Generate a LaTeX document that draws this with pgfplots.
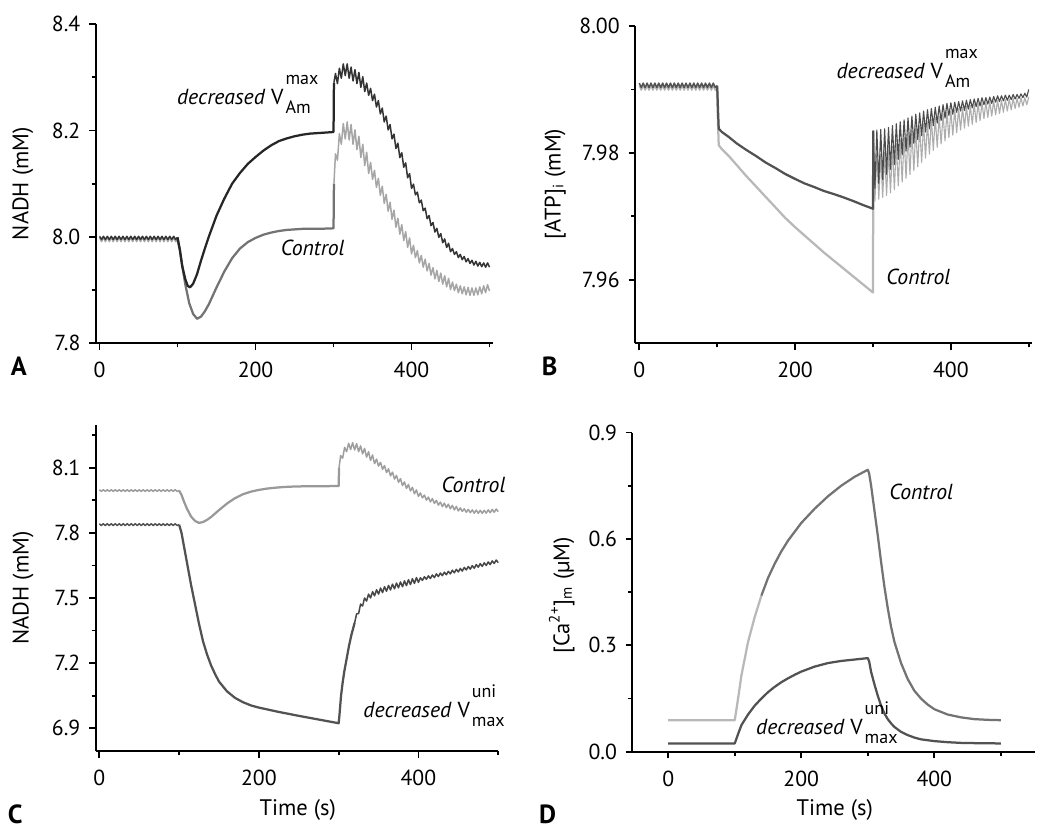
\documentclass[border=0pt]{standalone}
\usepackage{fontspec}
\setmainfont{PT Sans}
\usepackage{pgfplots}
\usepackage{pgfplotstable}
\pgfplotsset{compat=1.18}

\newcommand{\Vs}[2]{V\kern0.8pt\rlap{\raisebox{8pt}{\fontsize{7.2}{9}\selectfont #1}}\raisebox{-3.6pt}{\fontsize{7.2}{9}\selectfont #2}}
\newcommand{\ann}{\fontsize{8.7}{10}\selectfont}

% Control NADH trace (same run in panels A and C)
\pgfplotstableread[row sep=\\]{t v\\
0 7.999\\ 2.5 7.991\\ 5 7.999\\ 7.5 7.991\\ 10 7.999\\ 12.5 7.991\\ 15 7.999\\ 17.5 7.991\\ 20 7.999\\ 22.5 7.991\\ 25 7.999\\ 27.5 7.991\\ 30 7.999\\ 32.5 7.991\\ 35 7.999\\ 37.5 7.991\\ 40 7.999\\ 42.5 7.991\\ 45 7.999\\ 47.5 7.991\\ 50 7.999\\ 52.5 7.991\\ 55 7.999\\ 57.5 7.991\\ 60 7.999\\ 62.5 7.991\\ 65 7.999\\ 67.5 7.991\\ 70 7.999\\ 72.5 7.991\\ 75 7.999\\ 77.5 7.991\\ 80 7.999\\ 82.5 7.991\\ 85 7.999\\ 87.5 7.991\\ 90 7.999\\ 92.5 7.991\\ 95 7.999\\ 97.5 7.991\\ 100 7.995\\
}\ctrlpre
\pgfplotstableread[row sep=\\]{t v\\
100 7.995\\ 103 7.975\\ 106 7.945\\ 110 7.91\\ 115 7.875\\ 120 7.855\\ 125 7.846\\ 130 7.85\\ 135 7.86\\ 140 7.873\\ 150 7.905\\ 160 7.935\\ 170 7.96\\ 180 7.978\\ 190 7.99\\ 200 7.998\\ 210 8.004\\ 220 8.008\\ 230 8.011\\ 240 8.013\\ 260 8.015\\ 280 8.015\\ 300 8.016\\ 300.5 8.10\\
}\ctrlmid
\pgfplotstableread[row sep=\\]{t v\\
300.5 8.10\\ 302.5 8.156\\ 305 8.144\\ 307.5 8.194\\ 310 8.174\\ 312.5 8.213\\ 315 8.184\\ 317.5 8.216\\ 320 8.182\\ 322.5 8.211\\ 325 8.174\\ 327.5 8.201\\ 330 8.164\\ 332.5 8.189\\ 335 8.149\\ 337.5 8.174\\ 340 8.134\\ 342.5 8.159\\ 345 8.119\\ 347.5 8.140\\ 350 8.108\\ 352.5 8.125\\ 355 8.093\\ 357.5 8.110\\ 360 8.078\\ 362.5 8.095\\ 365 8.063\\ 367.5 8.080\\ 370 8.048\\ 372.5 8.065\\ 375 8.033\\ 377.5 8.050\\ 380 8.018\\ 382.5 8.035\\ 385 8.005\\ 387.5 8.023\\ 390 7.993\\ 392.5 8.010\\ 395 7.980\\ 397.5 7.998\\ 400 7.968\\ 402.5 7.984\\ 405 7.961\\ 407.5 7.974\\ 410 7.951\\ 412.5 7.965\\ 415 7.943\\ 417.5 7.958\\ 420 7.936\\ 422.5 7.950\\ 425 7.928\\ 427.5 7.942\\ 430 7.921\\ 432.5 7.937\\ 435 7.916\\ 437.5 7.932\\ 440 7.911\\ 442.5 7.927\\ 445 7.906\\ 447.5 7.922\\ 450 7.901\\ 452.5 7.915\\ 455 7.899\\ 457.5 7.911\\ 460 7.895\\ 462.5 7.908\\ 465 7.893\\ 467.5 7.906\\ 470 7.891\\ 472.5 7.905\\ 475 7.890\\ 477.5 7.904\\ 480 7.890\\ 482.5 7.904\\ 485 7.891\\ 487.5 7.906\\ 490 7.893\\ 492.5 7.908\\ 495 7.895\\ 497.5 7.910\\ 500 7.898\\
}\ctrlpost

\pgfplotsset{
  panel/.style={
    scale only axis,
    anchor=south west,
    axis x line=bottom, axis y line=left,
    axis line style={-, line width=0.8pt, black},
    tick align=outside,
    major tick length=2.6pt, minor tick length=1.6pt,
    every tick/.style={line width=0.7pt, black},
    tick label style={font=\fontsize{8.7}{10}\selectfont},
    xticklabel style={yshift=-1.5pt},
    label style={font=\fontsize{9}{11}\selectfont},
    /pgf/number format/assume math mode=true,
    xtick={0,200,400}, minor xtick={100,300,500},
    scaled y ticks=false,
    clip=false,
    every axis plot/.append style={line width=0.9pt, line join=round, mark=none},
  },
  rip/.style={line width=0.6pt},
}

\begin{document}
\begin{tikzpicture}
\useasboundingbox (0,0) rectangle (420pt,335.6pt);

% ---------- A ----------
\begin{axis}[panel, at={(38.27pt,198.3pt)}, width=159.1pt, height=127.7pt,
  xmin=-5, xmax=505, ymin=7.8, ymax=8.4,
  ytick={7.8,8.0,8.2,8.4}, minor ytick={7.9,8.1,8.3},
  yticklabel style={/pgf/number format/.cd,fixed,fixed zerofill,precision=1},
  ylabel={NADH (mM)},
  ylabel style={at={(rel axis cs:-0.183,0.5)}, anchor=center},
]
% control
\addplot[black!35, rip] table[x=t, y=v] {\ctrlpre};
\addplot[black!55] table[x=t, y=v] {\ctrlmid};
\addplot[black!35, rip] table[x=t, y=v] {\ctrlpost};
% decreased V_Am^max
\addplot[black!80, rip] coordinates {(0,8.001)(2.5,7.995)(5,8.001)(7.5,7.995)(10,8.001)(12.5,7.995)(15,8.001)(17.5,7.995)(20,8.001)(22.5,7.995)(25,8.001)(27.5,7.995)(30,8.001)(32.5,7.995)(35,8.001)(37.5,7.995)(40,8.001)(42.5,7.995)(45,8.001)(47.5,7.995)(50,8.001)(52.5,7.995)(55,8.001)(57.5,7.995)(60,8.001)(62.5,7.995)(65,8.001)(67.5,7.995)(70,8.001)(72.5,7.995)(75,8.001)(77.5,7.995)(80,8.001)(82.5,7.995)(85,8.001)(87.5,7.995)(90,8.001)(92.5,7.995)(95,8.001)(97.5,7.995)(100,7.999)};
\addplot[black!85] coordinates {(100,7.999)(103,7.975)(106,7.945)(110,7.92)(113,7.908)(116,7.905)(120,7.912)(125,7.93)(130,7.955)(135,7.978)(140,8.0)(145,8.02)(150,8.04)(160,8.072)(170,8.10)(180,8.12)(190,8.137)(200,8.15)(210,8.162)(220,8.172)(230,8.18)(240,8.185)(250,8.189)(260,8.192)(270,8.194)(280,8.195)(290,8.196)(300,8.197)(300.5,8.29)};
\addplot[black!80, rip] coordinates {(300.5,8.29)(302.5,8.307)(305,8.288)(307.5,8.317)(310,8.298)(312.5,8.325)(315,8.303)(317.5,8.325)(320,8.298)(322.5,8.319)(325,8.293)(327.5,8.314)(330,8.288)(332.5,8.309)(335,8.281)(337.5,8.301)(340,8.273)(342.5,8.289)(345,8.266)(347.5,8.279)(350,8.256)(352.5,8.268)(355,8.244)(357.5,8.256)(360,8.231)(362.5,8.242)(365,8.216)(367.5,8.227)(370,8.201)(372.5,8.211)(375,8.184)(377.5,8.193)(380,8.166)(382.5,8.176)(385,8.149)(387.5,8.158)(390,8.131)(392.5,8.139)(395,8.111)(397.5,8.119)(400,8.091)(402.5,8.099)(405,8.079)(407.5,8.084)(410,8.064)(412.5,8.069)(415,8.049)(417.5,8.054)(420,8.034)(422.5,8.040)(425,8.021)(427.5,8.027)(430,8.009)(432.5,8.016)(435,7.999)(437.5,8.006)(440,7.989)(442.5,7.996)(445,7.980)(447.5,7.988)(450,7.972)(452.5,7.978)(455,7.967)(457.5,7.972)(460,7.961)(462.5,7.967)(465,7.957)(467.5,7.963)(470,7.953)(472.5,7.959)(475,7.950)(477.5,7.956)(480,7.947)(482.5,7.954)(485,7.945)(487.5,7.952)(490,7.944)(492.5,7.951)(495,7.943)(497.5,7.951)(500,7.943)};
\node[anchor=base west, font=\ann] at (axis cs:88,8.248) {\textit{decreased} \Vs{max}{Am}};
\node[anchor=base west, font=\ann] at (axis cs:221,7.965) {\textit{Control}};
\node[font=\bfseries\fontsize{10.5}{12}\selectfont] at (rel axis cs:-0.193,-0.072) {A};
\end{axis}

% ---------- B ----------
\begin{axis}[panel, at={(254pt,198.3pt)}, width=158.9pt, height=126.9pt,
  xmin=-5.5, xmax=504.5, ymin=7.95, ymax=8.00,
  ytick={7.96,7.98,8.00}, minor ytick={7.97,7.99},
  yticklabel style={/pgf/number format/.cd,fixed,fixed zerofill,precision=2},
  ylabel={[ATP]\textsubscript{i} (mM)},
  ylabel style={at={(rel axis cs:-0.201,0.502)}, anchor=center},
]
% control
\addplot[black!30, rip] coordinates {(0,7.9906)(2.5,7.9899)(5,7.9906)(7.5,7.9899)(10,7.9906)(12.5,7.9899)(15,7.9906)(17.5,7.9899)(20,7.9906)(22.5,7.9899)(25,7.9906)(27.5,7.9899)(30,7.9906)(32.5,7.9899)(35,7.9906)(37.5,7.9899)(40,7.9906)(42.5,7.9899)(45,7.9906)(47.5,7.9899)(50,7.9906)(52.5,7.9899)(55,7.9906)(57.5,7.9899)(60,7.9906)(62.5,7.9899)(65,7.9906)(67.5,7.9899)(70,7.9906)(72.5,7.9899)(75,7.9906)(77.5,7.9899)(80,7.9906)(82.5,7.9899)(85,7.9906)(87.5,7.9899)(90,7.9906)(92.5,7.9899)(95,7.9906)(97.5,7.9899)(100,7.9902)};
\addplot[black!28] coordinates {(100,7.9902)(101,7.9850)(102,7.9812)(106,7.9806)(115,7.9795)(125,7.9781)(137,7.9764)(150,7.9747)(162,7.9731)(175,7.9714)(187,7.9698)(200,7.9683)(212,7.9670)(225,7.9656)(237,7.9643)(250,7.9630)(262,7.9618)(275,7.9605)(287,7.9593)(300,7.9580)(300.5,7.9795)};
\addplot[black!32, line width=0.45pt] coordinates {(300.5,7.9795)(302.5,7.9724)(305,7.9796)(307.5,7.9727)(310,7.9798)(312.5,7.9730)(315,7.9801)(317.5,7.9733)(320,7.9805)(322.5,7.9737)(325,7.9810)(327.5,7.9742)(330,7.9815)(332.5,7.9748)(335,7.9820)(337.5,7.9754)(340,7.9825)(342.5,7.9760)(345,7.9830)(347.5,7.9766)(350,7.9835)(352.5,7.9772)(355,7.9839)(357.5,7.9778)(360,7.9842)(362.5,7.9785)(365,7.9846)(367.5,7.9792)(370,7.9849)(372.5,7.9798)(375,7.9853)(377.5,7.9804)(380,7.9856)(382.5,7.9809)(385,7.9858)(387.5,7.9814)(390,7.9861)(392.5,7.9819)(395,7.9864)(397.5,7.9824)(400,7.9866)(402.5,7.9828)(405,7.9868)(407.5,7.9832)(410,7.9870)(412.5,7.9836)(415,7.9872)(417.5,7.9839)(420,7.9874)(422.5,7.9842)(425,7.9875)(427.5,7.9845)(430,7.9877)(432.5,7.9848)(435,7.9878)(437.5,7.9851)(440,7.9879)(442.5,7.9854)(445,7.9880)(447.5,7.9856)(450,7.9881)(452.5,7.9858)(455,7.9882)(457.5,7.9860)(460,7.9883)(462.5,7.9862)(465,7.9883)(467.5,7.9864)(470,7.9884)(472.5,7.9866)(475,7.9885)(477.5,7.9868)(480,7.9886)(482.5,7.9870)(485,7.9886)(487.5,7.9872)(490,7.9887)(492.5,7.9874)(495,7.9887)(497.5,7.9876)(500,7.9888)};
% decreased V_Am^max
\addplot[black!68, rip] coordinates {(0,7.9910)(2.5,7.9903)(5,7.9910)(7.5,7.9903)(10,7.9910)(12.5,7.9903)(15,7.9910)(17.5,7.9903)(20,7.9910)(22.5,7.9903)(25,7.9910)(27.5,7.9903)(30,7.9910)(32.5,7.9903)(35,7.9910)(37.5,7.9903)(40,7.9910)(42.5,7.9903)(45,7.9910)(47.5,7.9903)(50,7.9910)(52.5,7.9903)(55,7.9910)(57.5,7.9903)(60,7.9910)(62.5,7.9903)(65,7.9910)(67.5,7.9903)(70,7.9910)(72.5,7.9903)(75,7.9910)(77.5,7.9903)(80,7.9910)(82.5,7.9903)(85,7.9910)(87.5,7.9903)(90,7.9910)(92.5,7.9903)(95,7.9910)(97.5,7.9903)(100,7.9906)};
\addplot[black!68] coordinates {(100,7.9906)(101,7.9870)(102,7.9838)(106,7.9833)(115,7.9825)(125,7.9815)(137,7.9805)(150,7.9795)(162,7.9785)(175,7.9776)(187,7.9767)(200,7.9759)(212,7.9752)(225,7.9746)(237,7.9740)(250,7.9735)(262,7.9730)(275,7.9724)(287,7.9718)(300,7.9712)(300.5,7.9835)};
\addplot[black!70, line width=0.45pt] coordinates {(300.5,7.9835)(302.5,7.9744)(305,7.9836)(307.5,7.9752)(310,7.9837)(312.5,7.9758)(315,7.9838)(317.5,7.9766)(320,7.9840)(322.5,7.9774)(325,7.9843)(327.5,7.9782)(330,7.9846)(332.5,7.9790)(335,7.9849)(337.5,7.9797)(340,7.9852)(342.5,7.9803)(345,7.9855)(347.5,7.9809)(350,7.9858)(352.5,7.9815)(355,7.9861)(357.5,7.9821)(360,7.9863)(362.5,7.9827)(365,7.9866)(367.5,7.9833)(370,7.9868)(372.5,7.9838)(375,7.9870)(377.5,7.9843)(380,7.9872)(382.5,7.9847)(385,7.9874)(387.5,7.9851)(390,7.9876)(392.5,7.9855)(395,7.9878)(397.5,7.9859)(400,7.9879)(402.5,7.9861)(405,7.9880)(407.5,7.9864)(410,7.9881)(412.5,7.9866)(415,7.9882)(417.5,7.9867)(420,7.9883)(422.5,7.9869)(425,7.9884)(427.5,7.9871)(430,7.9885)(432.5,7.9873)(435,7.9886)(437.5,7.9874)(440,7.9887)(442.5,7.9876)(445,7.9887)(447.5,7.9877)(450,7.9888)(452.5,7.9878)(455,7.9889)(457.5,7.9880)(460,7.9890)(462.5,7.9881)(465,7.9890)(467.5,7.9882)(470,7.9891)(472.5,7.9883)(475,7.9891)(477.5,7.9884)(480,7.9892)(482.5,7.9885)(485,7.9892)(487.5,7.9886)(490,7.9893)(492.5,7.9887)(495,7.9894)(497.5,7.9888)(500,7.9900)};
\node[anchor=base west, font=\ann] at (axis cs:242,7.9918) {\textit{decreased} \Vs{max}{Am}};
\node[anchor=base west, font=\ann] at (axis cs:306,7.9592) {\textit{Control}};
\node[font=\bfseries\fontsize{10.5}{12}\selectfont] at (rel axis cs:-0.215,-0.072) {B};
\end{axis}

% ---------- C ----------
\begin{axis}[panel, at={(38.27pt,35.2pt)}, width=161.1pt, height=130.4pt,
  xmin=-4.6, xmax=500.3, ymin=6.795, ymax=8.297,
  ytick={6.9,7.2,7.5,7.8,8.1}, minor ytick={7.05,7.35,7.65,7.95,8.25},
  yticklabel style={/pgf/number format/.cd,fixed,fixed zerofill,precision=1},
  ylabel={NADH (mM)},
  ylabel style={at={(rel axis cs:-0.180,0.5)}, anchor=center},
  xlabel={Time (s)},
  xlabel style={at={(rel axis cs:0.502,-0.181)}, anchor=center},
]
% control
\addplot[black!38, rip] table[x=t, y=v] {\ctrlpre};
\addplot[black!40] table[x=t, y=v] {\ctrlmid};
\addplot[black!38, rip] table[x=t, y=v] {\ctrlpost};
% decreased V_max^uni
\addplot[black!68, rip] coordinates {(0,7.842)(2.5,7.834)(5,7.842)(7.5,7.834)(10,7.842)(12.5,7.834)(15,7.842)(17.5,7.834)(20,7.842)(22.5,7.834)(25,7.842)(27.5,7.834)(30,7.842)(32.5,7.834)(35,7.842)(37.5,7.834)(40,7.842)(42.5,7.834)(45,7.842)(47.5,7.834)(50,7.842)(52.5,7.834)(55,7.842)(57.5,7.834)(60,7.842)(62.5,7.834)(65,7.842)(67.5,7.834)(70,7.842)(72.5,7.834)(75,7.842)(77.5,7.834)(80,7.842)(82.5,7.834)(85,7.842)(87.5,7.834)(90,7.842)(92.5,7.834)(95,7.842)(97.5,7.834)(100,7.838)};
\addplot[black!68] coordinates {(100,7.838)(103,7.80)(106,7.74)(110,7.66)(115,7.56)(120,7.47)(125,7.38)(130,7.30)(135,7.24)(140,7.19)(145,7.15)(150,7.115)(160,7.07)(170,7.04)(180,7.02)(190,7.005)(200,6.995)(225,6.975)(250,6.957)(275,6.94)(300,6.923)(301,6.96)(303,7.05)(305,7.11)(307,7.16)(310,7.22)(313,7.28)(316,7.33)(320,7.385)};
\addplot[black!72, rip] coordinates {(320,7.385)(322.5,7.427)(325,7.428)(327.5,7.472)(330,7.463)(332.5,7.500)(335,7.486)(337.5,7.518)(340,7.500)(342.5,7.529)(345,7.510)(347.5,7.538)(350,7.518)(352.5,7.546)(355,7.525)(357.5,7.552)(360,7.531)(362.5,7.558)(365,7.537)(367.5,7.564)(370,7.542)(372.5,7.569)(375,7.547)(377.5,7.574)(380,7.552)(382.5,7.579)(385,7.557)(387.5,7.584)(390,7.562)(392.5,7.589)(395,7.567)(397.5,7.594)(400,7.572)(402.5,7.593)(405,7.581)(407.5,7.598)(410,7.586)(412.5,7.602)(415,7.590)(417.5,7.606)(420,7.594)(422.5,7.611)(425,7.599)(427.5,7.615)(430,7.603)(432.5,7.619)(435,7.607)(437.5,7.623)(440,7.611)(442.5,7.628)(445,7.616)(447.5,7.632)(450,7.620)(452.5,7.636)(455,7.624)(457.5,7.641)(460,7.629)(462.5,7.645)(465,7.633)(467.5,7.649)(470,7.637)(472.5,7.654)(475,7.642)(477.5,7.658)(480,7.646)(482.5,7.662)(485,7.650)(487.5,7.666)(490,7.654)(492.5,7.671)(495,7.659)(497.5,7.675)(500,7.663)};
\node[anchor=base west, font=\ann] at (axis cs:418,7.985) {\textit{Control}};
\node[anchor=base west, font=\ann] at (axis cs:320,6.951) {\textit{decreased} \Vs{uni}{max}};
\node[font=\bfseries\fontsize{10.5}{12}\selectfont] at (rel axis cs:-0.200,-0.194) {C};
\end{axis}

% ---------- D ----------
\begin{axis}[panel, at={(252.9pt,34.9pt)}, width=161.1pt, height=127.7pt,
  xmin=-54.1, xmax=551.4, ymin=0, ymax=0.9,
  ytick={0,0.3,0.6,0.9}, minor ytick={0.15,0.45,0.75},
  yticklabel style={/pgf/number format/.cd,fixed,fixed zerofill,precision=1},
  ylabel={[Ca\textsuperscript{2+}]\textsubscript{m} (µM)},
  ylabel style={at={(rel axis cs:-0.175,0.49)}, anchor=center},
  xlabel={Time (s)},
  xlabel style={at={(rel axis cs:0.503,-0.183)}, anchor=center},
]
% control
\addplot[black!28] coordinates {(0,0.089)(100,0.089)(105,0.15)(110,0.215)(120,0.31)(130,0.38)(140,0.44)};
\addplot[black!55] coordinates {(140,0.44)(150,0.49)(160,0.53)(170,0.565)(180,0.595)(190,0.62)(200,0.645)(220,0.685)(240,0.72)(260,0.75)(280,0.775)(300,0.795)(302,0.785)(305,0.75)(310,0.68)(315,0.61)(320,0.535)(325,0.465)(330,0.405)(335,0.352)(340,0.31)(350,0.25)(360,0.205)(370,0.172)(380,0.15)(390,0.133)(400,0.12)(420,0.105)(440,0.097)(460,0.092)(480,0.09)(500,0.089)};
% decreased V_max^uni
\addplot[black!68] coordinates {(0,0.0235)(100,0.0235)(105,0.05)(110,0.075)(120,0.105)(130,0.13)(140,0.15)(150,0.168)(160,0.183)(170,0.196)(180,0.207)(190,0.217)(200,0.226)(220,0.24)(240,0.25)(260,0.256)(280,0.26)(300,0.264)(302,0.255)(305,0.225)(310,0.19)(315,0.158)(320,0.13)(325,0.108)(330,0.092)(335,0.08)(340,0.07)(350,0.056)(360,0.047)(370,0.04)(380,0.035)(400,0.03)(420,0.027)(440,0.025)(470,0.024)(500,0.0235)};
\node[anchor=base west, font=\ann] at (axis cs:319,0.71) {\textit{Control}};
\node[anchor=base west, font=\ann] at (axis cs:119,0.048) {\textit{decreased} \Vs{uni}{max}};
\node[font=\bfseries\fontsize{10.5}{12}\selectfont] at (rel axis cs:-0.21,-0.196) {D};
\end{axis}
\end{tikzpicture}
\end{document}
